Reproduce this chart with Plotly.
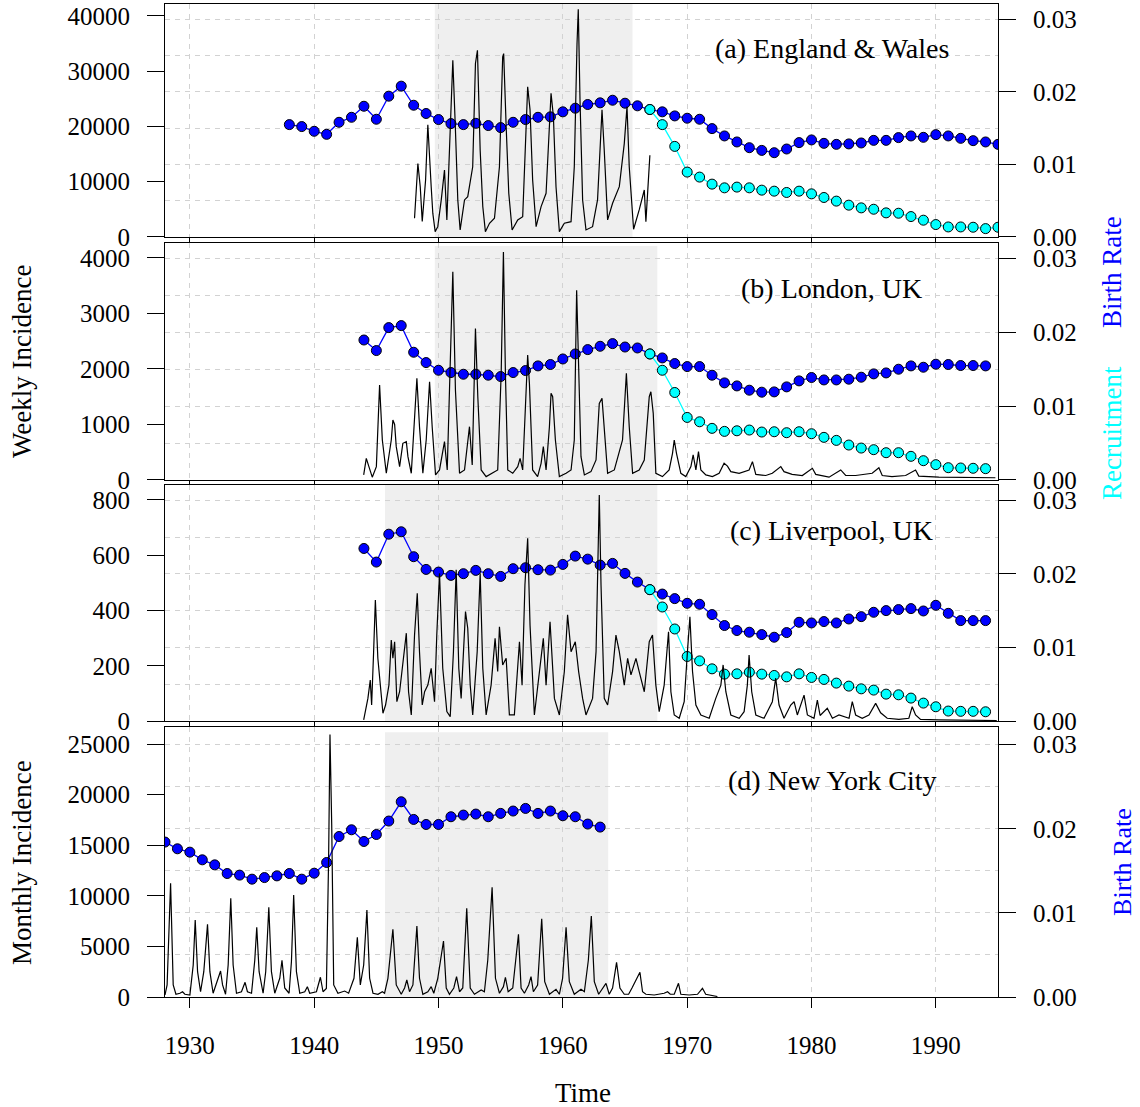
import plotly.graph_objects as go

FONT = "Liberation Serif"

# ---------------- data ----------------
ew_weekly = [(1948.07, 3380), (1948.21, 9100), (1948.34, 13300), (1948.53, 9100), (1948.69, 2800),
             (1948.96, 10300), (1949.14, 20300), (1949.41, 9100), (1949.54, 4300), (1949.73, 960),
             (1949.94, 1860), (1950.22, 6700), (1950.48, 12100), (1950.67, 3080), (1950.88, 17500),
             (1951.15, 32000), (1951.36, 19400), (1951.55, 6700), (1951.74, 1270), (1952.09, 6700),
             (1952.35, 7300), (1952.75, 12700), (1952.97, 31400), (1953.13, 33800), (1953.35, 15700),
             (1953.56, 5500), (1953.77, 960), (1954.10, 2480), (1954.50, 3380), (1954.90, 12700),
             (1955.16, 32600), (1955.24, 33200), (1955.44, 20000), (1955.65, 7900), (1955.92, 1270),
             (1956.37, 3080), (1956.77, 3680), (1957.17, 27200), (1957.36, 23000), (1957.57, 10300),
             (1957.85, 1860), (1958.25, 5500), (1958.65, 7900), (1959.05, 26000), (1959.24, 21800),
             (1959.45, 9100), (1959.72, 960), (1960.12, 2480), (1960.66, 2770), (1960.92, 12700),
             (1961.14, 35000), (1961.24, 41200), (1961.38, 24800), (1961.59, 6700), (1961.86, 1270),
             (1962.39, 1860), (1962.79, 6700), (1963.15, 23000), (1963.33, 15700), (1963.60, 3080),
             (1964.00, 6100), (1964.54, 9100), (1964.94, 16900), (1965.16, 23600), (1965.34, 12700),
             (1965.69, 1390), (1966.14, 4890), (1966.55, 8500), (1966.68, 2770), (1967.00, 14800)]

london_weekly = [(1943.98, 90), (1944.19, 390), (1944.40, 240), (1944.67, 50), (1945.00, 240),
                 (1945.26, 1710), (1945.48, 720), (1945.80, 120), (1946.20, 720), (1946.33, 1080),
                 (1946.47, 1000), (1946.60, 600), (1946.87, 240), (1947.13, 660), (1947.41, 690),
                 (1947.54, 420), (1947.81, 120), (1948.07, 1140), (1948.26, 1830), (1948.47, 960),
                 (1948.74, 120), (1949.01, 720), (1949.28, 1770), (1949.49, 960), (1949.76, 90),
                 (1950.08, 180), (1950.48, 690), (1950.70, 180), (1950.96, 2520), (1951.15, 3750),
                 (1951.36, 1620), (1951.69, 120), (1952.09, 180), (1952.49, 960), (1952.71, 270),
                 (1952.81, 1320), (1952.97, 2730), (1953.16, 1500), (1953.43, 180), (1953.83, 60),
                 (1954.36, 120), (1954.76, 180), (1955.04, 1920), (1955.22, 4110), (1955.38, 1920),
                 (1955.57, 180), (1955.97, 120), (1956.37, 240), (1956.56, 390), (1956.77, 180),
                 (1956.99, 1320), (1957.17, 2250), (1957.31, 1740), (1957.57, 180), (1957.97, 60),
                 (1958.25, 300), (1958.43, 600), (1958.65, 180), (1958.92, 960), (1959.05, 1560),
                 (1959.18, 1500), (1959.40, 720), (1959.72, 60), (1960.26, 120), (1960.66, 180),
                 (1960.92, 720), (1961.11, 3420), (1961.27, 2220), (1961.46, 420), (1961.73, 90),
                 (1962.26, 150), (1962.67, 360), (1962.93, 1380), (1963.15, 1470), (1963.33, 960),
                 (1963.60, 120), (1964.14, 180), (1964.54, 480), (1964.80, 720), (1965.11, 1920),
                 (1965.34, 960), (1965.61, 120), (1966.14, 180), (1966.55, 360), (1966.95, 1500),
                 (1967.08, 1590), (1967.27, 1200), (1967.48, 120), (1968.01, 60), (1968.55, 180),
                 (1968.82, 480), (1968.96, 720), (1969.14, 480), (1969.49, 120), (1969.89, 60),
                 (1970.30, 240), (1970.48, 450), (1970.70, 180), (1970.91, 510), (1971.10, 180),
                 (1971.50, 90), (1972.03, 60), (1972.57, 120), (1972.97, 300), (1973.24, 250),
                 (1973.51, 150), (1974.18, 120), (1974.98, 180), (1975.25, 330), (1975.52, 100),
                 (1976.32, 80), (1976.85, 120), (1977.53, 240), (1977.79, 150), (1978.44, 100),
                 (1979.26, 80), (1980.07, 210), (1980.34, 100), (1981.41, 50), (1982.35, 180),
                 (1982.75, 80), (1983.55, 80), (1984.88, 120), (1985.42, 220), (1985.69, 80),
                 (1986.47, 60), (1987.57, 80), (1988.37, 180), (1988.63, 70), (1990.24, 50),
                 (1992.91, 50), (1994.79, 40)]

liverpool_weekly = [(1943.98, 4), (1944.19, 52), (1944.32, 82), (1944.51, 148), (1944.62, 58),
                    (1944.78, 251), (1944.92, 438), (1945.12, 227), (1945.32, 130), (1945.53, 28),
                    (1945.74, 58), (1946.01, 130), (1946.20, 293), (1946.33, 227), (1946.47, 287),
                    (1946.65, 70), (1946.87, 106), (1947.13, 203), (1947.41, 318), (1947.59, 106),
                    (1947.81, 22), (1948.07, 311), (1948.29, 462), (1948.47, 251), (1948.69, 58),
                    (1948.88, 106), (1949.14, 130), (1949.41, 191), (1949.68, 70), (1949.86, 311),
                    (1950.08, 535), (1950.34, 191), (1950.67, 34), (1950.94, 16), (1951.20, 251),
                    (1951.42, 547), (1951.63, 191), (1951.82, 82), (1952.17, 396), (1952.35, 336),
                    (1952.55, 130), (1952.75, 22), (1953.11, 251), (1953.35, 535), (1953.56, 191),
                    (1953.83, 22), (1954.23, 130), (1954.55, 299), (1954.76, 179), (1954.90, 341),
                    (1955.16, 203), (1955.44, 227), (1955.70, 22), (1956.10, 22), (1956.51, 287),
                    (1956.72, 130), (1956.95, 492), (1957.17, 661), (1957.36, 347), (1957.71, 22),
                    (1958.06, 155), (1958.43, 299), (1958.65, 130), (1958.97, 359), (1959.32, 82),
                    (1959.72, 22), (1960.12, 179), (1960.38, 384), (1960.66, 251), (1961.00, 287),
                    (1961.27, 179), (1961.59, 82), (1961.86, 22), (1962.39, 82), (1962.67, 251),
                    (1962.93, 818), (1963.07, 492), (1963.33, 82), (1963.60, 58), (1964.00, 179),
                    (1964.27, 311), (1964.54, 251), (1964.94, 130), (1965.21, 227), (1965.48, 167),
                    (1965.88, 227), (1966.14, 179), (1966.55, 106), (1966.95, 287), (1967.21, 311),
                    (1967.48, 130), (1967.75, 34), (1968.15, 130), (1968.50, 323), (1968.69, 106),
                    (1968.96, 22), (1969.36, 10), (1969.76, 70), (1970.02, 251), (1970.22, 377),
                    (1970.43, 179), (1970.70, 58), (1971.10, 22), (1971.77, 10), (1972.30, 82),
                    (1972.71, 130), (1972.89, 203), (1973.11, 106), (1973.51, 22), (1974.18, 10),
                    (1974.58, 34), (1974.84, 130), (1974.98, 239), (1975.19, 106), (1975.52, 22),
                    (1976.18, 10), (1976.85, 70), (1977.12, 155), (1977.39, 58), (1977.79, 10),
                    (1978.33, 58), (1978.60, 70), (1978.86, 22), (1979.40, 94), (1979.67, 22),
                    (1980.20, 10), (1980.47, 76), (1980.69, 20), (1981.27, 46), (1981.68, 10),
                    (1982.21, 22), (1983.02, 10), (1983.28, 70), (1983.55, 22), (1984.08, 10),
                    (1984.62, 22), (1985.16, 64), (1985.56, 30), (1986.09, 10), (1987.03, 6),
                    (1987.83, 10), (1988.10, 52), (1988.37, 22), (1988.77, 6), (1990.24, 4),
                    (1992.89, 3), (1994.90, 2)]

nyc_monthly = [(1928.00, 200), (1928.17, 1190), (1928.45, 11230), (1928.66, 1190), (1928.88, 270),
               (1929.20, 370), (1929.41, 520), (1929.60, 270), (1930.00, 200), (1930.27, 3160),
               (1930.43, 7610), (1930.62, 2500), (1930.86, 520), (1931.12, 2500), (1931.42, 7180),
               (1931.61, 2500), (1931.87, 370), (1932.27, 1850), (1932.47, 2570), (1932.63, 1190),
               (1932.87, 270), (1933.08, 3160), (1933.29, 9750), (1933.48, 3160), (1933.75, 370),
               (1934.15, 520), (1934.44, 1450), (1934.63, 520), (1934.96, 370), (1935.22, 3630),
               (1935.38, 6890), (1935.57, 2500), (1935.89, 370), (1936.10, 2500), (1936.35, 8860),
               (1936.56, 2500), (1936.83, 370), (1937.23, 1850), (1937.41, 3630), (1937.63, 890),
               (1937.98, 370), (1938.17, 3500), (1938.35, 10080), (1938.57, 2500), (1938.84, 370),
               (1939.24, 520), (1939.45, 1020), (1939.64, 370), (1940.18, 520), (1940.50, 1950),
               (1940.71, 520), (1940.98, 850), (1941.16, 13700), (1941.27, 25950), (1941.41, 16990),
               (1941.57, 1190), (1941.91, 370), (1942.45, 590), (1942.77, 370), (1943.20, 1850),
               (1943.47, 5900), (1943.71, 1190), (1943.98, 3160), (1944.24, 8600), (1944.46, 1850),
               (1944.73, 370), (1945.13, 270), (1945.48, 520), (1945.66, 370), (1945.93, 1850),
               (1946.33, 6700), (1946.60, 1190), (1947.00, 270), (1947.27, 890), (1947.45, 1680),
               (1947.67, 520), (1947.94, 1190), (1948.26, 7010), (1948.47, 1850), (1948.74, 270),
               (1949.14, 520), (1949.41, 1020), (1949.62, 370), (1949.94, 1850), (1950.40, 5530),
               (1950.62, 890), (1950.88, 270), (1951.23, 890), (1951.45, 2010), (1951.69, 520),
               (1951.95, 890), (1952.27, 8760), (1952.55, 890), (1952.89, 270), (1953.16, 520),
               (1953.43, 690), (1953.69, 520), (1953.96, 3630), (1954.31, 10840), (1954.58, 1850),
               (1954.90, 370), (1955.22, 1020), (1955.38, 1950), (1955.60, 520), (1955.97, 890),
               (1956.43, 6200), (1956.64, 890), (1956.91, 370), (1957.25, 1190), (1957.44, 2010),
               (1957.63, 520), (1957.97, 1190), (1958.30, 7740), (1958.54, 1520), (1958.92, 270),
               (1959.18, 520), (1959.45, 760), (1959.72, 270), (1959.98, 1850), (1960.26, 6890),
               (1960.52, 1520), (1960.92, 270), (1961.19, 520), (1961.46, 760), (1961.73, 520),
               (1962.05, 3630), (1962.29, 8000), (1962.53, 1520), (1962.88, 270), (1963.20, 890),
               (1963.47, 1350), (1963.73, 270), (1964.00, 890), (1964.32, 3430), (1964.59, 890),
               (1964.94, 270), (1965.29, 270), (1965.56, 890), (1966.20, 2440), (1966.41, 520),
               (1966.68, 270), (1967.35, 200), (1968.15, 370), (1968.42, 520), (1968.64, 270),
               (1968.96, 270), (1969.30, 1350), (1969.49, 270), (1970.16, 200), (1970.83, 270),
               (1971.23, 860), (1971.49, 270), (1972.17, 100), (1972.43, 50)]

ew_birth_start = 1938
ew_birth = [0.01548, 0.01521, 0.01456, 0.01414, 0.01580, 0.01649, 0.01801, 0.01622, 0.01940, 0.02078,
            0.01815, 0.01701, 0.01618, 0.01562, 0.01548, 0.01566, 0.01535, 0.01507, 0.01580, 0.01618,
            0.01649, 0.01655, 0.01724, 0.01774, 0.01825, 0.01848, 0.01884, 0.01843, 0.01807, 0.01756,
            0.01724, 0.01668, 0.01636, 0.01622, 0.01493, 0.01392, 0.01309, 0.01230, 0.01193, 0.01161,
            0.01212, 0.01300, 0.01337, 0.01290, 0.01276, 0.01282, 0.01295, 0.01331, 0.01331, 0.01369,
            0.01392, 0.01373, 0.01410, 0.01392, 0.01359, 0.01327, 0.01309, 0.01276]
ew_recruit = [0.01756, 0.01548, 0.01248, 0.00894, 0.00825, 0.00728, 0.00677, 0.00687, 0.00677, 0.00645,
              0.00631, 0.00613, 0.00631, 0.00594, 0.00544, 0.00494, 0.00438, 0.00401, 0.00382, 0.00332,
              0.00327, 0.00281, 0.00231, 0.00171, 0.00138, 0.00138, 0.00134, 0.00115, 0.00134]

london_birth_start = 1944
london_birth = [0.01896, 0.01753, 0.02064, 0.02091, 0.01730, 0.01590, 0.01486, 0.01455, 0.01432, 0.01432,
                0.01419, 0.01401, 0.01455, 0.01482, 0.01545, 0.01564, 0.01639, 0.01707, 0.01766, 0.01811,
                0.01847, 0.01801, 0.01788, 0.01707, 0.01653, 0.01577, 0.01536, 0.01536, 0.01419, 0.01315,
                0.01274, 0.01216, 0.01189, 0.01193, 0.01261, 0.01342, 0.01388, 0.01355, 0.01355, 0.01365,
                0.01392, 0.01437, 0.01450, 0.01500, 0.01545, 0.01527, 0.01568, 0.01564, 0.01550, 0.01550,
                0.01545]
london_recruit = [0.01707, 0.01486, 0.01185, 0.00847, 0.00788, 0.00699, 0.00658, 0.00666, 0.00676, 0.00649,
                  0.00653, 0.00640, 0.00653, 0.00626, 0.00577, 0.00536, 0.00473, 0.00432, 0.00410, 0.00369,
                  0.00369, 0.00320, 0.00261, 0.00207, 0.00166, 0.00162, 0.00158, 0.00153]

liverpool_birth_start = 1944
liverpool_birth = [0.02347, 0.02162, 0.02541, 0.02574, 0.02235, 0.02062, 0.02026, 0.01981, 0.02004, 0.02049,
                   0.02004, 0.01967, 0.02072, 0.02085, 0.02058, 0.02053, 0.02130, 0.02243, 0.02202, 0.02121,
                   0.02144, 0.02008, 0.01890, 0.01787, 0.01727, 0.01665, 0.01601, 0.01588, 0.01448, 0.01299,
                   0.01231, 0.01208, 0.01176, 0.01140, 0.01203, 0.01343, 0.01334, 0.01353, 0.01334, 0.01388,
                   0.01420, 0.01479, 0.01502, 0.01516, 0.01529, 0.01497, 0.01574, 0.01465, 0.01366, 0.01366,
                   0.01366]
liverpool_recruit = [0.01787, 0.01551, 0.01252, 0.00878, 0.00818, 0.00710, 0.00638, 0.00642, 0.00665, 0.00638,
                     0.00620, 0.00601, 0.00642, 0.00593, 0.00566, 0.00516, 0.00475, 0.00438, 0.00421, 0.00366,
                     0.00357, 0.00312, 0.00244, 0.00194, 0.00136, 0.00132, 0.00132, 0.00126]

nyc_birth_start = 1928
nyc_birth = [0.01842, 0.01762, 0.01722, 0.01631, 0.01571, 0.01468, 0.01449, 0.01401, 0.01420, 0.01440,
             0.01468, 0.01401, 0.01472, 0.01599, 0.01908, 0.01988, 0.01849, 0.01932, 0.02092, 0.02321,
             0.02111, 0.02051, 0.02051, 0.02143, 0.02163, 0.02175, 0.02143, 0.02183, 0.02211, 0.02242,
             0.02183, 0.02211, 0.02155, 0.02143, 0.02056, 0.02020]

recruit_start = 1967

panel_labels = ["(a) England &amp; Wales", "(b) London, UK", "(c) Liverpool, UK", "(d) New York City"]
shade_periods = [(1949.7, 1965.6), (1949.7, 1967.6), (1945.7, 1967.6), (1945.7, 1963.65)]
x_ticks = [1930, 1940, 1950, 1960, 1970, 1980, 1990]

# ---------------- layout geometry ----------------
domains = [(0.7654, 1.0), (0.5207, 0.7593), (0.2779, 0.5156), (0.0, 0.2719)]
left_ranges = [42170, 4270, 854, 26680]
left_dticks = [10000, 1000, 200, 5000]
shade_tops = [1.0, 0.987, 1.0, 0.981]
label_y = [0.9547, 0.713, 0.4693, 0.2185]

incidence = [ew_weekly, london_weekly, liverpool_weekly, nyc_monthly]
births = [(ew_birth_start, ew_birth), (london_birth_start, london_birth),
          (liverpool_birth_start, liverpool_birth), (nyc_birth_start, nyc_birth)]
recruits = [ew_recruit, london_recruit, liverpool_recruit, None]

GRID = "#D2D2D2"
tickfont = dict(family=FONT, size=25, color="black")

fig = go.Figure()
layout = {}
shapes = []
annotations = []

for i in range(4):
    n = i + 1
    xa = "x" if n == 1 else f"x{n}"
    base = 2 * n - 1
    over = 2 * n
    yb = "y" if base == 1 else f"y{base}"
    yo = f"y{over}"
    xkey = "xaxis" if n == 1 else f"xaxis{n}"
    ybkey = "yaxis" if base == 1 else f"yaxis{base}"
    yokey = f"yaxis{over}"

    # birth rate (base axis, right side)
    start, vals = births[i]
    yrs = list(range(start, start + len(vals)))
    fig.add_trace(go.Scatter(x=yrs, y=vals, xaxis=xa, yaxis=yb, mode="lines+markers",
                             line=dict(color="#0000FF", width=1.3),
                             marker=dict(color="#0000FF", size=10, line=dict(color="black", width=1)),
                             showlegend=False))
    if recruits[i] is not None:
        rv = recruits[i]
        ryrs = list(range(recruit_start, recruit_start + len(rv)))
        fig.add_trace(go.Scatter(x=ryrs, y=rv, xaxis=xa, yaxis=yb, mode="lines+markers",
                                 line=dict(color="#00FFFF", width=1.3),
                                 marker=dict(color="#00FFFF", size=10, line=dict(color="black", width=1)),
                                 showlegend=False))
    # incidence (overlay axis, left side)
    t = [p[0] for p in incidence[i]]
    v = [p[1] for p in incidence[i]]
    fig.add_trace(go.Scatter(x=t, y=v, xaxis=xa, yaxis=yo, mode="lines",
                             line=dict(color="black", width=1.2), showlegend=False))

    layout[xkey] = dict(domain=[0, 1], range=[1928, 1995], anchor=yb,
                        showline=True, mirror=True, linecolor="black", linewidth=1.2,
                        tickvals=x_ticks, ticks="outside", ticklen=8 if n < 4 else 10,
                        tickcolor="black", showticklabels=(n == 4), tickfont=tickfont,
                        ticklabelstandoff=16,
                        showgrid=True, gridcolor=GRID, griddash="5px,5px", gridwidth=1,
                        zeroline=False)
    layout[ybkey] = dict(domain=list(domains[i]), range=[0, 0.0321], anchor=xa, side="right",
                         showline=True, mirror=True, linecolor="black", linewidth=1.2,
                         tickvals=[0, 0.01, 0.02, 0.03], tickformat=".2f",
                         ticks="outside", ticklen=17, tickcolor="black", tickfont=tickfont,
                         ticklabelstandoff=12,
                         showgrid=True, gridcolor=GRID, griddash="5px,5px", gridwidth=1,
                         minor=dict(tickvals=[0.005, 0.015, 0.025], showgrid=True, gridcolor=GRID,
                                    griddash="5px,5px", gridwidth=1, ticks=""),
                         zeroline=False)
    layout[yokey] = dict(range=[0, left_ranges[i]], overlaying=yb, anchor=xa, side="left",
                         showline=False, dtick=left_dticks[i], tick0=0, tickformat="d",
                         ticks="outside", ticklen=17, tickcolor="black", tickfont=tickfont,
                         ticklabelstandoff=12, showgrid=False, zeroline=False)

    s0, s1 = shade_periods[i]
    shapes.append(dict(type="rect", xref=xa, yref=f"{yb} domain", x0=s0, x1=s1, y0=0,
                       y1=shade_tops[i], fillcolor="#EFEFEF", line=dict(width=0), layer="below"))

    annotations.append(dict(text=panel_labels[i], xref="paper", yref="paper", x=0.8007, y=label_y[i],
                            xanchor="center", yanchor="middle", showarrow=False,
                            font=dict(family=FONT, size=28, color="black")))

annotations += [
    dict(text="Weekly Incidence", xref="paper", yref="paper", x=-0.1717, y=0.6405, textangle=-90,
         xanchor="center", yanchor="middle", showarrow=False, font=dict(family=FONT, size=27, color="black")),
    dict(text="Monthly Incidence", xref="paper", yref="paper", x=-0.1717, y=0.136, textangle=-90,
         xanchor="center", yanchor="middle", showarrow=False, font=dict(family=FONT, size=27, color="black")),
    dict(text="Time", xref="paper", yref="paper", x=0.5018, y=-0.0967,
         xanchor="center", yanchor="middle", showarrow=False, font=dict(family=FONT, size=27, color="black")),
    dict(text="Birth Rate", xref="paper", yref="paper", x=1.1369, y=0.7301, textangle=-90,
         xanchor="center", yanchor="middle", showarrow=False, font=dict(family=FONT, size=27, color="#0000FF")),
    dict(text="Recruitment", xref="paper", yref="paper", x=1.1369, y=0.568, textangle=-90,
         xanchor="center", yanchor="middle", showarrow=False, font=dict(family=FONT, size=27, color="#00FFFF")),
    dict(text="Birth Rate", xref="paper", yref="paper", x=1.150, y=0.136, textangle=-90,
         xanchor="center", yanchor="middle", showarrow=False, font=dict(family=FONT, size=26, color="#0000FF")),
]

fig.update_layout(width=1140, height=1107, margin=dict(l=165, r=142, t=4, b=110),
                  paper_bgcolor="white", plot_bgcolor="white", showlegend=False,
                  font=dict(family=FONT, color="black"),
                  shapes=shapes, annotations=annotations, **layout)

fig.write_html("out.html")
